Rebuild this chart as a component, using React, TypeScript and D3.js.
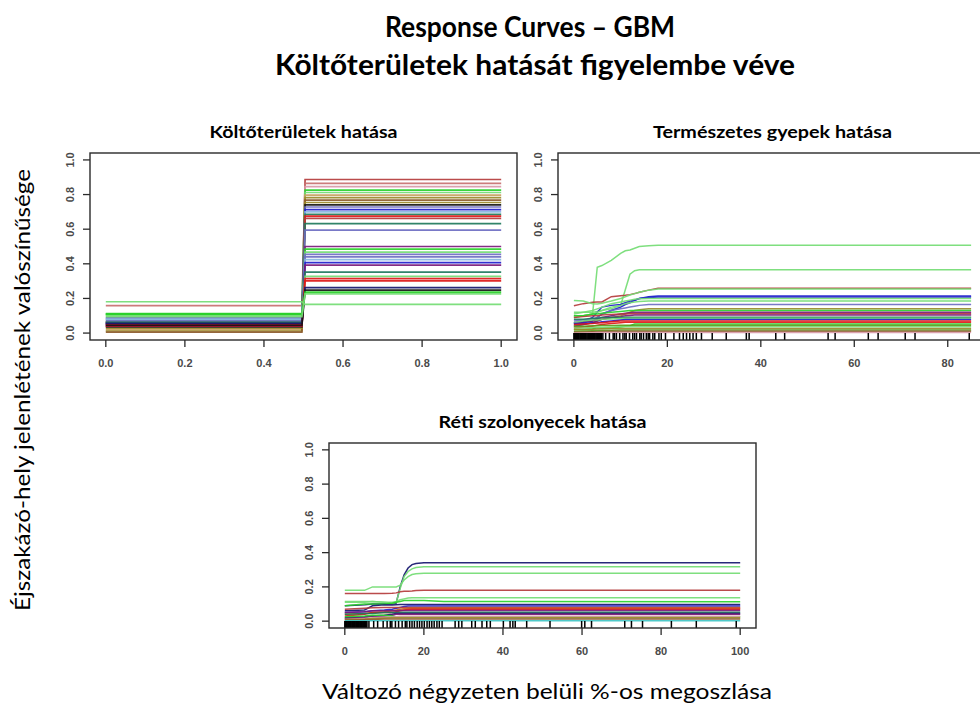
import React from 'react';
import * as d3 from 'd3';

const W = 980;
const H = 707;

// ---- text ----
const mainTitle = ['Response Curves – GBM', 'Költőterületek hatását figyelembe véve'];
const yAxisTitle = 'Éjszakázó-hely jelenlétének valószínűsége';
const xAxisTitle = 'Változó négyzeten belüli %-os megoszlása';
const panelTitles = ['Költőterületek hatása', 'Természetes gyepek hatása', 'Réti szolonyecek hatása'];

// ---- shared axis ticks ----
const yTicks = [0, 0.2, 0.4, 0.6, 0.8, 1.0];
const yTickLabels = ['0.0', '0.2', '0.4', '0.6', '0.8', '1.0'];

// ---- palette ----
const C = {
  lg: '#74dc74', g: '#2ad02a', fb: '#b43c3c', fbl: '#c87070', pk: '#d89aa8', r: '#e01818',
  bl: '#1e1ecc', nv: '#16166e', sb: '#6e6ec2', pu: '#7a1a7a', tl: '#1e7a5c', ol: '#9a8a2a',
  tan: '#c8a060', br: '#8b5a2b', bk: '#151515', lb: '#88b6e0', og: '#5c9c1c', ch: '#c8641e', cy: '#40c4c4',
};

// ---- panel 1: Költőterületek (step at 0.5) ----
const koltoX = [0, 0.496, 0.504, 1];
const koltoLow = [
  0.065, 0.158, 0.035, 0.112, 0.104, 0.02, 0.012, 0.005, 0.028, 0.035, 0.09, 0.055,
  0.08, 0.064, 0.045, 0.06, 0.06, 0.05, 0.04, 0.11, 0.075, 0.085, 0.07, 0.08,
  0.052, 0.055, 0.062, 0.1, 0.042, 0.05, 0.056, 0.045, 0.11, 0.095, 0.181,
];
const koltoHigh = [
  0.887, 0.864, 0.846, 0.826, 0.812, 0.797, 0.782, 0.768, 0.754, 0.74, 0.728, 0.713,
  0.7, 0.686, 0.676, 0.662, 0.632, 0.594, 0.5, 0.485, 0.468, 0.454, 0.44, 0.424,
  0.407, 0.393, 0.352, 0.328, 0.314, 0.302, 0.262, 0.248, 0.236, 0.226, 0.166,
];
const koltoColors = [
  C.fb, C.fbl, C.pk, C.g, C.lg, C.tan, C.ol, C.br, C.ol, C.bk, C.sb, C.bl,
  C.lb, C.tl, C.r, C.fb, C.tl, C.sb, C.pu, C.g, C.lg, C.sb, C.sb, C.lb,
  C.bl, C.pu, C.tl, C.lg, C.r, C.r, C.nv, C.bk, C.g, C.lg, C.lg,
];
const koltoXTicks = [0, 0.2, 0.4, 0.6, 0.8, 1.0];
const koltoXLabels = ['0.0', '0.2', '0.4', '0.6', '0.8', '1.0'];

// ---- panel 2: Természetes gyepek ----
const gyepX = [0, 2, 4, 5, 6, 8, 10, 11, 12, 13, 14, 16, 18, 85];
const gyepCurves = [
  [0.10, 0.10, 0.11, 0.38, 0.39, 0.42, 0.46, 0.475, 0.48, 0.49, 0.50, 0.505, 0.507, 0.507],
  [0.12, 0.12, 0.12, 0.125, 0.13, 0.14, 0.16, 0.25, 0.34, 0.36, 0.366, 0.366, 0.366, 0.366],
  [0.158, 0.17, 0.178, 0.18, 0.18, 0.21, 0.215, 0.218, 0.222, 0.228, 0.236, 0.248, 0.259, 0.259],
  [0.188, 0.185, 0.17, 0.168, 0.172, 0.185, 0.2, 0.21, 0.22, 0.228, 0.236, 0.248, 0.255, 0.255],
  [0.05, 0.065, 0.09, 0.12, 0.15, 0.16, 0.165, 0.175, 0.185, 0.19, 0.2, 0.21, 0.214, 0.214],
  [0.06, 0.06, 0.07, 0.09, 0.11, 0.13, 0.15, 0.165, 0.175, 0.19, 0.2, 0.206, 0.208, 0.208],
  [0.11, 0.12, 0.13, 0.14, 0.15, 0.17, 0.18, 0.185, 0.19, 0.195, 0.198, 0.2, 0.2, 0.2],
  [0.09, 0.1, 0.11, 0.12, 0.13, 0.15, 0.16, 0.17, 0.175, 0.18, 0.183, 0.185, 0.185, 0.185],
  [0.07, 0.075, 0.08, 0.09, 0.11, 0.13, 0.14, 0.145, 0.15, 0.155, 0.16, 0.165, 0.165, 0.165],
  [0.04, 0.05, 0.06, 0.07, 0.08, 0.09, 0.1, 0.11, 0.12, 0.13, 0.135, 0.14, 0.14, 0.14],
  [0.1, 0.1, 0.11, 0.11, 0.115, 0.12, 0.125, 0.128, 0.13, 0.13, 0.13, 0.13, 0.13, 0.13],
  [0.06, 0.065, 0.07, 0.08, 0.09, 0.1, 0.11, 0.115, 0.118, 0.12, 0.12, 0.12, 0.12, 0.12],
  [0.09, 0.095, 0.1, 0.1, 0.105, 0.108, 0.11, 0.11, 0.112, 0.112, 0.112, 0.112, 0.112, 0.112],
  [0.04, 0.05, 0.06, 0.07, 0.08, 0.09, 0.095, 0.1, 0.102, 0.104, 0.105, 0.105, 0.105, 0.105],
  [0.08, 0.08, 0.085, 0.085, 0.09, 0.09, 0.09, 0.092, 0.092, 0.092, 0.092, 0.092, 0.092, 0.092],
  [0.06, 0.07, 0.075, 0.075, 0.08, 0.082, 0.084, 0.085, 0.085, 0.085, 0.085, 0.085, 0.085, 0.085],
  [0.055, 0.055, 0.058, 0.06, 0.065, 0.07, 0.075, 0.078, 0.078, 0.078, 0.078, 0.078, 0.078, 0.078],
  [0.05, 0.052, 0.055, 0.058, 0.06, 0.065, 0.07, 0.07, 0.07, 0.07, 0.07, 0.07, 0.07, 0.07],
  [0.03, 0.035, 0.04, 0.045, 0.05, 0.055, 0.06, 0.062, 0.062, 0.062, 0.062, 0.062, 0.062, 0.062],
  [0.02, 0.02, 0.025, 0.03, 0.03, 0.03, 0.035, 0.04, 0.042, 0.052, 0.052, 0.052, 0.052, 0.052],
  [0.04, 0.04, 0.042, 0.042, 0.044, 0.044, 0.045, 0.045, 0.045, 0.045, 0.045, 0.045, 0.045, 0.045],
  [0.03, 0.03, 0.032, 0.033, 0.034, 0.035, 0.036, 0.036, 0.036, 0.036, 0.036, 0.036, 0.036, 0.036],
  [0.02, 0.02, 0.022, 0.024, 0.025, 0.026, 0.027, 0.027, 0.027, 0.027, 0.027, 0.027, 0.027, 0.027],
  [0.01, 0.012, 0.014, 0.015, 0.016, 0.017, 0.018, 0.018, 0.018, 0.018, 0.018, 0.018, 0.018, 0.018],
  [0.005, 0.006, 0.007, 0.008, 0.009, 0.01, 0.01, 0.01, 0.01, 0.01, 0.01, 0.01, 0.01, 0.01],
  [0.0, 0.001, 0.002, 0.003, 0.003, 0.003, 0.003, 0.003, 0.003, 0.003, 0.003, 0.003, 0.003, 0.003],
];
const gyepColors = [
  C.lg, C.lg, C.fb, C.lg, C.bl, C.bl, C.lg, C.lg, C.sb, C.ol, C.g, C.pu, C.fb,
  C.pu, C.tl, C.lg, C.bl, C.r, C.r, C.g, C.og, C.lg, C.ol, C.og, C.br, C.pk,
];
const gyepRug = [
  0, 0.15, 0.3, 0.5, 0.6, 0.8, 0.95, 1.1, 1.3, 1.45, 1.6, 1.8, 2, 2.1, 2.3, 2.5, 2.6, 2.8,
  3, 3.1, 3.3, 3.5, 3.7, 3.8, 4, 4.2, 4.4, 4.5, 4.7, 4.9, 5.1, 5.3, 5.5, 5.7, 5.9,
  6.2, 6.8, 7.6, 8.4, 8.7, 9.1, 9.8, 10.5, 10.9, 11.2, 11.9, 12.6, 13.0, 13.4, 14.1, 14.4,
  14.9, 15.5, 15.9, 16.2, 16.9, 17.3, 18.2, 18.7, 19.6, 21.4, 22.6, 23.4, 24.1, 24.8, 25.5,
  26.2, 27.3, 29.6, 32.6, 36.9, 37.5, 43.2, 45.1, 54.4, 55.9, 63.0, 65.1, 70.9, 73.0, 84.6,
];
const gyepXTicks = [0, 20, 40, 60, 80];
const gyepXLabels = ['0', '20', '40', '60', '80'];

// ---- panel 3: Réti szolonyecek ----
const retiX = [0, 5, 7, 10, 12, 13, 14, 15, 16, 17, 18, 20, 25, 100];
const retiCurves = [
  [0.09, 0.095, 0.1, 0.1, 0.1, 0.105, 0.2, 0.27, 0.31, 0.33, 0.337, 0.341, 0.341, 0.341],
  [0.115, 0.115, 0.115, 0.11, 0.105, 0.11, 0.19, 0.26, 0.29, 0.305, 0.313, 0.317, 0.318, 0.318],
  [0.18, 0.18, 0.2, 0.2, 0.2, 0.2, 0.21, 0.24, 0.26, 0.272, 0.277, 0.279, 0.279, 0.279],
  [0.162, 0.162, 0.162, 0.162, 0.163, 0.165, 0.172, 0.175, 0.175, 0.176, 0.179, 0.181, 0.181, 0.181],
  [0.11, 0.11, 0.115, 0.11, 0.11, 0.115, 0.125, 0.13, 0.135, 0.137, 0.137, 0.137, 0.137, 0.137],
  [0.09, 0.1, 0.1, 0.1, 0.105, 0.11, 0.115, 0.12, 0.12, 0.12, 0.12, 0.12, 0.115, 0.113],
  [0.06, 0.065, 0.09, 0.095, 0.095, 0.096, 0.097, 0.097, 0.097, 0.097, 0.097, 0.097, 0.097, 0.097],
  [0.05, 0.055, 0.06, 0.065, 0.07, 0.075, 0.08, 0.085, 0.088, 0.088, 0.088, 0.088, 0.088, 0.088],
  [0.07, 0.075, 0.078, 0.08, 0.08, 0.08, 0.08, 0.08, 0.08, 0.08, 0.08, 0.08, 0.08, 0.08],
  [0.04, 0.045, 0.05, 0.055, 0.06, 0.065, 0.07, 0.072, 0.074, 0.075, 0.075, 0.075, 0.075, 0.075],
  [0.03, 0.04, 0.05, 0.05, 0.05, 0.055, 0.06, 0.065, 0.068, 0.07, 0.07, 0.07, 0.07, 0.07],
  [0.05, 0.055, 0.06, 0.06, 0.06, 0.06, 0.062, 0.062, 0.062, 0.062, 0.062, 0.062, 0.062, 0.062],
  [0.04, 0.045, 0.045, 0.05, 0.05, 0.05, 0.052, 0.052, 0.052, 0.052, 0.052, 0.052, 0.052, 0.052],
  [0.02, 0.025, 0.03, 0.035, 0.04, 0.045, 0.045, 0.045, 0.045, 0.045, 0.045, 0.045, 0.045, 0.045],
  [0.015, 0.02, 0.03, 0.03, 0.035, 0.04, 0.04, 0.04, 0.04, 0.04, 0.04, 0.04, 0.04, 0.04],
  [0.025, 0.03, 0.035, 0.035, 0.03, 0.025, 0.025, 0.025, 0.025, 0.025, 0.025, 0.025, 0.025, 0.025],
  [0.01, 0.015, 0.02, 0.022, 0.024, 0.026, 0.028, 0.028, 0.028, 0.028, 0.028, 0.028, 0.028, 0.028],
  [0.01, 0.012, 0.015, 0.018, 0.02, 0.02, 0.02, 0.02, 0.02, 0.02, 0.02, 0.02, 0.02, 0.02],
  [0.005, 0.008, 0.01, 0.012, 0.012, 0.012, 0.012, 0.012, 0.012, 0.012, 0.012, 0.012, 0.012, 0.012],
  [0.002, 0.002, 0.003, 0.003, 0.003, 0.003, 0.003, 0.003, 0.003, 0.003, 0.003, 0.003, 0.003, 0.003],
];
const retiColors = [
  C.nv, C.lg, C.lg, C.fb, C.lg, C.g, C.nv, C.bl, C.fb, C.ch, C.r, C.pu, C.tl,
  C.nv, C.pu, C.g, C.pk, C.ol, C.br, C.cy,
];
const retiRug = [
  0, 0.2, 0.4, 0.6, 0.8, 1.0, 1.2, 1.4, 1.6, 1.8, 2.0, 2.2, 2.4, 2.6, 2.8, 3.0, 3.2, 3.4,
  3.6, 3.8, 4.0, 4.2, 4.4, 4.6, 4.8, 5.0, 5.2, 5.4, 5.6,
  6.1, 7.3, 8.3, 9.7, 10.7, 11.5, 11.9, 12.8, 13.6, 14.5, 15.3, 15.7, 16.4, 17.0, 17.6,
  18.3, 18.9, 19.5, 20.1, 20.8, 21.4, 22.0, 22.6, 23.3, 23.9, 24.6, 27.9, 28.8, 29.6,
  32.1, 33.0, 34.7, 35.9, 36.8, 40.1, 41.8, 42.5, 43.1, 46.0, 51.9, 59.9, 60.7, 62.4,
  70.8, 72.5, 75.3, 82.6, 88.9, 99.0,
];
const retiXTicks = [0, 20, 40, 60, 80, 100];
const retiXLabels = ['0', '20', '40', '60', '80', '100'];

type Box = { l: number; r: number; t: number; b: number };

const TICK_FONT = '"Liberation Sans", Arial, sans-serif';
const AXIS_COL = '#2a2a2a';
const TICK_TEXT = '#4a4a4a';

function Panel(props: {
  box: Box;
  xDomain: [number, number];
  xTicks: number[];
  xLabels: string[];
  xs: number[];
  curves: number[][];
  colors: string[];
  rug?: number[];
  title: string;
  titleWidth: number;
  lineWidth: number;
}) {
  const { box, xDomain, xTicks, xLabels, xs, curves, colors, rug, title, titleWidth, lineWidth } = props;
  const span = xDomain[1] - xDomain[0];
  const x = d3.scaleLinear().domain([xDomain[0] - 0.04 * span, xDomain[1] + 0.04 * span]).range([box.l, box.r]);
  const y = d3.scaleLinear().domain([-0.04, 1.04]).range([box.b, box.t]);
  const line = d3.line<number>().x((_, i) => x(xs[i])).y((d) => y(d));
  const rugLen = 7;
  const clipId = `clip-${Math.round(box.l)}-${Math.round(box.t)}`;

  return (
    <g>
      <defs>
        <clipPath id={clipId}>
          <rect x={box.l} y={box.t} width={box.r - box.l} height={box.b - box.t} />
        </clipPath>
      </defs>
      <text
        x={(box.l + box.r) / 2}
        y={box.t - 15}
        textAnchor="middle"
        fontFamily="Lato, 'Open Sans', sans-serif"
        fontWeight={700}
        fontSize={17}
        textLength={titleWidth}
        lengthAdjust="spacingAndGlyphs"
        fill="#000"
      >
        {title}
      </text>
      <g clipPath={`url(#${clipId})`}>
        {curves.map((c, i) => (
          <path key={i} d={line(c) || ''} fill="none" stroke={colors[i]} strokeWidth={lineWidth} strokeOpacity={0.92} />
        ))}
        {rug &&
          rug.map((v, i) => (
            <line key={`r${i}`} x1={x(v)} x2={x(v)} y1={box.b} y2={box.b - rugLen} stroke="#000" strokeWidth={1.5} />
          ))}
      </g>
      <rect x={box.l} y={box.t} width={box.r - box.l} height={box.b - box.t} fill="none" stroke={AXIS_COL} strokeWidth={1.4} />
      {yTicks.map((v, i) => (
        <g key={`y${i}`}>
          <line x1={box.l} x2={box.l - 7} y1={y(v)} y2={y(v)} stroke={AXIS_COL} strokeWidth={1.3} />
          <text
            transform={`translate(${box.l - 20},${y(v)}) rotate(-90)`}
            textAnchor="middle"
            dominantBaseline="central"
            fontFamily={TICK_FONT}
            fontWeight={700}
            fontSize={11}
            fill={TICK_TEXT}
          >
            {yTickLabels[i]}
          </text>
        </g>
      ))}
      {xTicks.map((v, i) => (
        <g key={`x${i}`}>
          <line x1={x(v)} x2={x(v)} y1={box.b} y2={box.b + 7} stroke={AXIS_COL} strokeWidth={1.3} />
          <text
            x={x(v)}
            y={box.b + 23}
            textAnchor="middle"
            dominantBaseline="central"
            fontFamily={TICK_FONT}
            fontWeight={700}
            fontSize={11}
            fill={TICK_TEXT}
          >
            {xLabels[i]}
          </text>
        </g>
      ))}
    </g>
  );
}

export default function App() {
  const koltoCurves = koltoLow.map((lo, i) => [lo, lo, koltoHigh[i], koltoHigh[i]]);
  return (
    <svg
      width={W}
      height={H}
      viewBox={`0 0 ${W} ${H}`}
      style={{ position: 'absolute', left: 0, top: 0, display: 'block', background: '#fff' }}
    >
      <rect x={0} y={0} width={W} height={H} fill="#fff" />
      <g fontFamily="Lato, 'Open Sans', sans-serif" fontWeight={700} fill="#000">
        <text x={530} y={37} textAnchor="middle" fontSize={28} textLength={290} lengthAdjust="spacingAndGlyphs">
          {mainTitle[0]}
        </text>
        <text x={535} y={75} textAnchor="middle" fontSize={28} textLength={520} lengthAdjust="spacingAndGlyphs">
          {mainTitle[1]}
        </text>
      </g>
      <text
        transform="translate(30,390) rotate(-90)"
        textAnchor="middle"
        fontFamily="Lato, 'Open Sans', sans-serif"
        fontSize={22}
        textLength={442}
        lengthAdjust="spacingAndGlyphs"
        fill="#000"
      >
        {yAxisTitle}
      </text>
      <text
        x={547}
        y={699}
        textAnchor="middle"
        fontFamily="Lato, 'Open Sans', sans-serif"
        fontSize={22}
        textLength={450}
        lengthAdjust="spacingAndGlyphs"
        fill="#000"
      >
        {xAxisTitle}
      </text>

      <Panel
        box={{ l: 90, r: 517, t: 153, b: 340 }}
        xDomain={[0, 1]}
        xTicks={koltoXTicks}
        xLabels={koltoXLabels}
        xs={koltoX}
        curves={koltoCurves}
        colors={koltoColors}
        title={panelTitles[0]}
        titleWidth={188}
        lineWidth={1.7}
      />
      <Panel
        box={{ l: 558, r: 987, t: 153, b: 340 }}
        xDomain={[0, 85]}
        xTicks={gyepXTicks}
        xLabels={gyepXLabels}
        xs={gyepX}
        curves={gyepCurves}
        colors={gyepColors}
        rug={gyepRug}
        title={panelTitles[1]}
        titleWidth={239}
        lineWidth={1.5}
      />
      <Panel
        box={{ l: 329, r: 756, t: 443, b: 628 }}
        xDomain={[0, 100]}
        xTicks={retiXTicks}
        xLabels={retiXLabels}
        xs={retiX}
        curves={retiCurves}
        colors={retiColors}
        rug={retiRug}
        title={panelTitles[2]}
        titleWidth={208}
        lineWidth={1.5}
      />
    </svg>
  );
}
